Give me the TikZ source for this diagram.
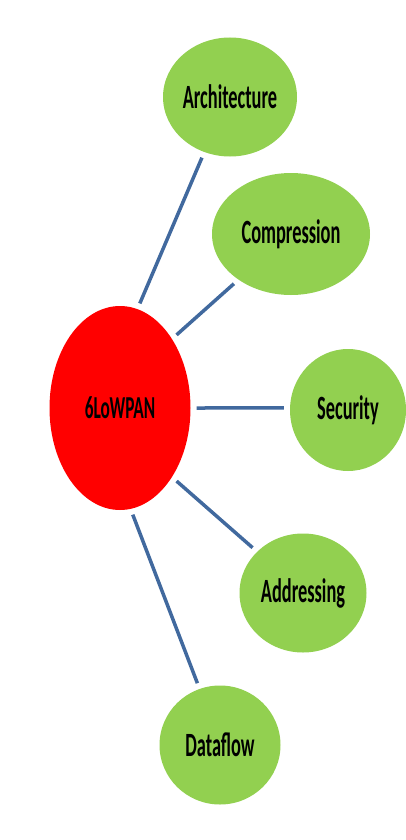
\documentclass[tikz,border=0pt]{standalone}
\usepackage{fontspec}
\setmainfont{Carlito}
\usetikzlibrary{shapes.geometric}
\definecolor{leaf}{HTML}{92D050}
\definecolor{hub}{HTML}{FF0000}
\definecolor{linkc}{HTML}{41699E}
\newcommand{\narrowtxt}[1]{\scalebox{0.54}[1]{#1}}
\begin{document}
\begin{tikzpicture}[x=1pt,y=-1pt,
  bubble/.style={ellipse, fill=leaf, inner sep=0pt, text=black,
    font=\fontsize{34}{34}\selectfont\bfseries},
  hubnode/.style={ellipse, fill=hub, inner sep=0pt, text=black,
    font=\fontsize{32}{32}\selectfont\bfseries},
  conn/.style={draw=linkc, line width=3.5pt, shorten <=6pt, shorten >=6pt}]
\useasboundingbox (0,0) rectangle (406,840);
\node[hubnode, minimum width=141pt, minimum height=204pt] (hub) at (120,408) {\narrowtxt{6LoWPAN}};
\node[bubble, minimum width=134pt, minimum height=119pt] (arch) at (230,97) {\narrowtxt{Architecture}};
\node[bubble, minimum width=158pt, minimum height=122pt] (comp) at (291,234) {\narrowtxt{Compression}};
\node[bubble, minimum width=116pt, minimum height=122pt] (sec) at (348,410) {\narrowtxt{Security}};
\node[bubble, minimum width=127pt, minimum height=119pt] (addr) at (303,593) {\narrowtxt{Addressing}};
\node[bubble, minimum width=121pt, minimum height=119pt] (data) at (220,745) {\narrowtxt{Dataflow}};
\draw[conn] (hub.80.8) -- (arch.245.3);
\draw[conn] (hub.53.5) -- (comp.221.2);
\draw[conn] (hub.0) -- (sec.178);
\draw[conn] (hub.307.5) -- (addr.138.1);
\draw[conn] (hub.276.4) -- (data.110.7);
\end{tikzpicture}
\end{document}
